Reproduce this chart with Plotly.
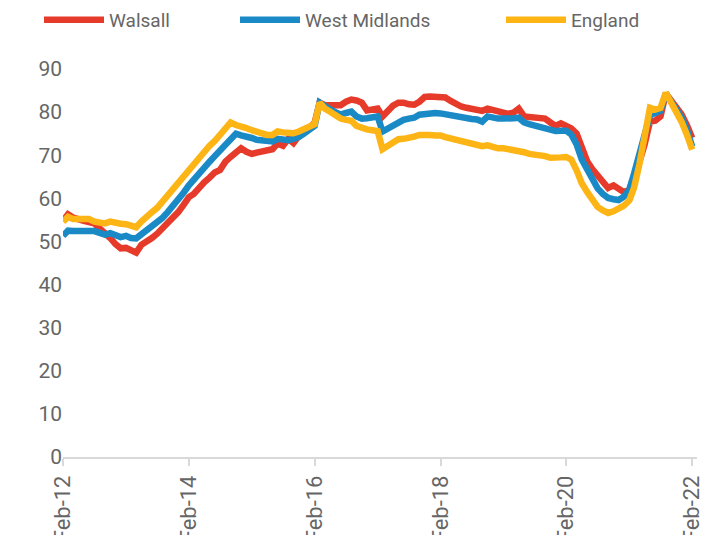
import pandas as pd
import plotly.graph_objects as go

months = pd.date_range("2012-02-01", periods=121, freq="MS")

walsall = [
    54.8, 56.3, 55.5, 55.0, 54.8, 54.5, 54.2, 53.0, 52.0, 50.8, 49.4, 48.4,
    48.5, 48.0, 47.4, 49.2, 49.9, 50.8, 51.8, 53.0, 54.3, 55.5, 56.8, 58.5,
    60.3, 61.0, 62.5, 63.7, 64.8, 66.0, 66.6, 68.5, 69.6, 70.6, 71.6, 70.8,
    70.3, 70.6, 71.0, 71.2, 71.4, 72.7, 72.2, 73.8, 72.8, 74.5, 75.2, 76.3,
    77.5, 82.2, 81.6, 81.5, 81.4, 81.6, 82.4, 82.9, 82.7, 82.2, 80.4, 80.6,
    80.8, 79.0, 80.3, 81.5, 82.2, 82.2, 81.8, 81.7, 82.4, 83.5, 83.6, 83.5,
    83.6, 83.4, 82.6, 81.8, 81.3, 81.0, 80.8, 80.6, 80.3, 80.8, 80.5, 80.1,
    79.8, 79.6, 79.9, 80.8, 79.0, 78.9, 78.8, 78.7, 78.5, 77.6, 76.8, 77.4,
    76.9, 76.2, 75.0, 71.5, 68.6, 66.8, 65.2, 63.8, 62.4, 63.0, 62.3, 61.4,
    62.0, 64.7, 68.5, 72.5, 77.8, 78.0, 79.0, 84.3, 82.8, 81.2, 79.5, 77.0,
    74.0,
]

west_midlands = [
    51.3, 52.5, 52.4, 52.5, 52.3, 52.4, 52.4, 51.8, 51.6, 51.9, 51.4, 51.0,
    51.3, 50.8, 50.7, 51.6, 52.5, 53.3, 54.3, 55.5, 56.8, 58.2, 59.7, 61.3,
    63.0, 64.4, 65.7, 67.2, 68.5, 69.8, 71.2, 72.5, 73.8, 75.0, 74.6, 74.4,
    74.0, 73.6, 73.4, 73.2, 73.2, 73.8, 73.6, 73.5, 73.8, 74.2, 75.0, 76.0,
    76.8, 82.2, 81.2, 80.6, 80.0, 79.4, 79.8, 80.1, 79.0, 78.5, 78.6, 78.8,
    79.0, 75.5, 76.3, 77.0, 77.8, 78.2, 78.5, 78.7, 79.4, 79.6, 79.7, 79.8,
    79.7, 79.5, 79.2, 78.8, 78.7, 78.5, 78.4, 78.3, 77.8, 79.0, 78.7, 78.5,
    78.5, 78.4, 78.6, 78.7, 77.6, 77.2, 76.9, 76.6, 76.4, 75.9, 75.6, 75.7,
    75.7, 74.8, 72.5, 69.0, 66.5, 64.7, 62.3, 61.0, 60.1, 59.8, 59.6, 60.4,
    62.0, 65.8, 70.0, 74.0, 79.3, 79.8, 80.3, 84.3, 82.5, 80.6, 78.8, 76.0,
    72.0,
]

england = [
    54.6, 55.7, 55.2, 55.3, 55.2, 55.2, 54.6, 54.2, 54.2, 54.6, 54.2, 54.1,
    54.0, 53.6, 53.3, 54.6, 55.9, 56.8, 57.8, 59.3, 60.8, 62.4, 63.8, 65.2,
    66.7, 68.3, 69.7, 71.0, 72.2, 73.3, 74.6, 76.0, 77.6, 77.0, 76.8, 76.3,
    75.8, 75.4, 75.1, 74.7, 74.7, 75.5, 75.3, 75.2, 75.1, 75.5, 76.0, 76.6,
    77.2, 82.2, 80.8, 80.1, 79.3, 78.5, 78.2, 78.0, 76.8, 76.2, 76.0, 75.8,
    75.6, 71.4, 72.3, 73.2, 73.7, 73.8, 73.9, 74.3, 74.7, 74.8, 74.7, 74.6,
    74.6, 74.2, 73.9, 73.7, 73.3, 72.8, 72.7, 72.3, 72.1, 72.3, 71.9, 71.6,
    71.6, 71.4, 71.4, 71.2, 70.7, 70.3, 70.2, 70.0, 69.8, 69.4, 69.3, 69.5,
    69.6, 69.0, 66.5, 63.5, 61.5, 60.0, 58.0, 57.2, 56.6, 57.0, 57.5, 58.3,
    59.5, 62.5, 68.0, 74.5, 81.0, 80.6, 81.0, 84.5, 82.3, 80.3, 77.8, 74.8,
    71.3,
]

tick_dates = ["2012-02-01", "2014-02-01", "2016-02-01", "2018-02-01", "2020-02-01", "2022-02-01"]
tick_labels = ["Feb-12", "Feb-14", "Feb-16", "Feb-18", "Feb-20", "Feb-22"]

series = [
    ("Walsall", walsall, "#E63B2B", "legend"),
    ("West Midlands", west_midlands, "#1A8AC6", "legend2"),
    ("England", england, "#FDB515", "legend3"),
]

fig = go.Figure()
for name, vals, color, lg in series:
    fig.add_trace(go.Scatter(
        x=months, y=vals, name=name, mode="lines",
        line=dict(color=color, width=6.5),
        legend=lg,
    ))

FONT = "Roboto, Arial, sans-serif"
TXT = "#666666"
ITEMW = 60

def legend_at(text_x):
    return dict(
        x=(text_x - ITEMW - 10) / 715, xref="container", xanchor="left",
        y=1 - 20 / 535, yref="container", yanchor="middle",
        orientation="h", bgcolor="rgba(0,0,0,0)",
        font=dict(family=FONT, size=19, color=TXT),
        borderwidth=0, itemwidth=ITEMW,
    )

fig.update_layout(
    width=715, height=535,
    template="none",
    paper_bgcolor="white", plot_bgcolor="white",
    margin=dict(l=63, r=18, t=69, b=78),
    font=dict(family=FONT, color=TXT),
    showlegend=True,
    legend=legend_at(109),
    legend2=legend_at(305),
    legend3=legend_at(571),
    xaxis=dict(
        range=["2012-02-01", "2022-03-01"],
        tickvals=tick_dates, ticktext=tick_labels,
        tickangle=-90,
        tickfont=dict(family=FONT, size=22, color=TXT),
        ticklabelstandoff=1,
        showgrid=False, zeroline=False,
        showline=True, linecolor="#D9D9D9", linewidth=1.5,
        ticks="outside", ticklen=7, tickcolor="#D9D9D9", tickwidth=1.5,
        automargin=False,
    ),
    yaxis=dict(
        range=[0, 90], dtick=10, tick0=0,
        tickfont=dict(family=FONT, size=21, color=TXT),
        showgrid=False, zeroline=False, showline=False,
        ticks="", automargin=False,
    ),
)

fig.write_html(
    "out.html",
    config={"displayModeBar": False},
    post_script="document.body.style.margin='0';document.body.style.overflow='hidden';",
)
